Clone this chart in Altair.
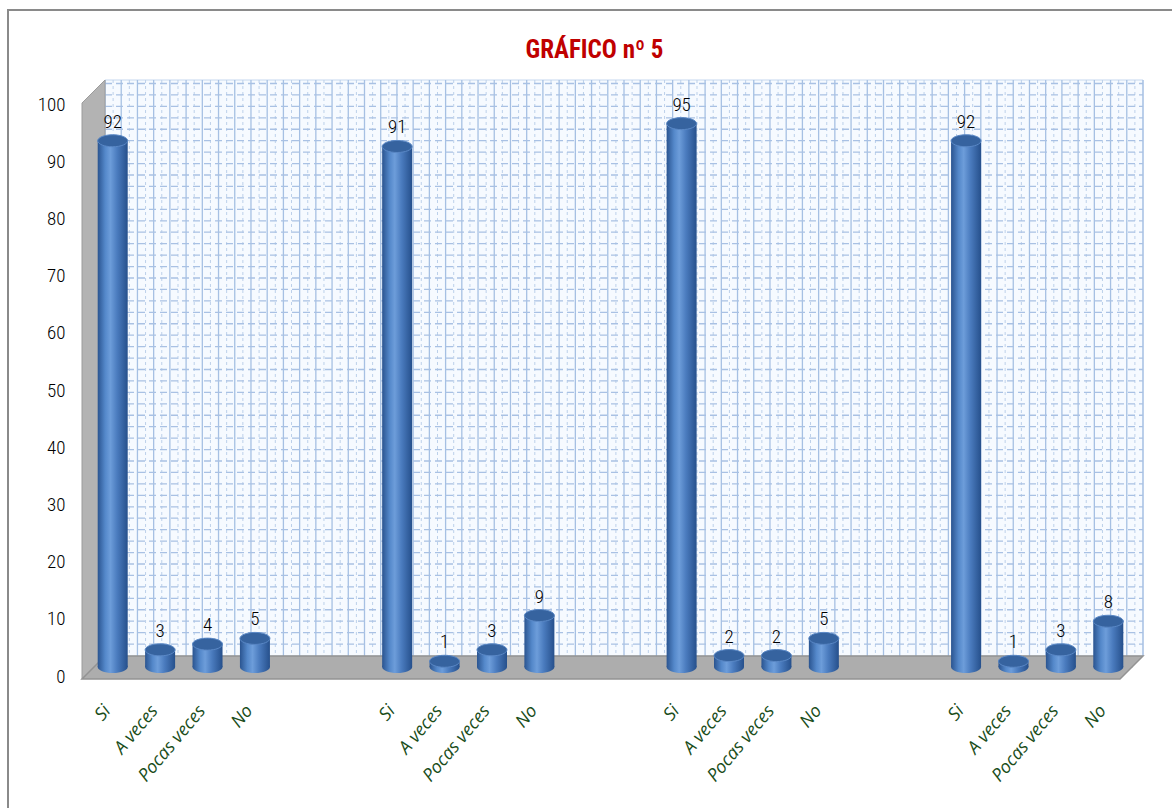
import altair as alt
import pandas as pd

# ---------------- data ----------------
categories = ["Si", "A veces", "Pocas veces", "No"]
group1 = [92, 3, 4, 5]
group2 = [91, 1, 3, 9]
group3 = [95, 2, 2, 5]
group4 = [92, 1, 3, 8]
groups = [group1, group2, group3, group4]
y_ticks = [0, 10, 20, 30, 40, 50, 60, 70, 80, 90, 100]
title_text = "GRÁFICO nº 5"

rows = []
domain = []
for gi, vals in enumerate(groups, start=1):
    for c, v in zip(categories, vals):
        key = f"{gi}|{c}"
        rows.append({"key": key, "cat": c, "value": v})
        domain.append(key)
    if gi < len(groups):
        domain += [f"gap{gi}a|", f"gap{gi}b|"]
df = pd.DataFrame(rows)

# ---------------- layout (pixels) ----------------
W, H = 1043, 572
LEFT, TOP = 89, 95
D = 23                      # 3-D depth
BACK_X0, BACK_X1 = 16, W + 11
FRONT_X0, FRONT_X1 = -7, W - 12
FLOOR_BACK, FLOOR_FRONT = H - 11, H + 12
WALL_TOP = -15

NARROW = "Liberation Sans Narrow, Arial Narrow, Roboto Condensed, sans-serif"

xscale = alt.Scale(domain=domain, paddingInner=0.37, paddingOuter=0.185)
yscale = alt.Scale(domain=[0, 100], nice=False, zero=True)
yaxis = alt.Axis(
    title=None, values=y_ticks, labelFont=NARROW, labelFontSize=19, labelFontWeight=300,
    labelColor="#000000", labelPadding=24, labelOffset=9, domain=False, ticks=False, grid=False,
)
xaxis = alt.Axis(
    title=None, labels=False, domain=False, ticks=False, grid=False,
)

base = alt.Chart(df)
one = "datum.key == '1|Si'"

# border frame
border = base.mark_rect(filled=False, stroke="#8a8a8a", strokeWidth=2).encode(
    x=alt.value(-LEFT + 8), x2=alt.value(W + 76), y=alt.value(-TOP + 10), y2=alt.value(H + 160)
).transform_filter(one)

# back wall
wall = base.mark_rect(fill="#f6faff", stroke="#c5d7ee", strokeWidth=1).encode(
    x=alt.value(BACK_X0), x2=alt.value(BACK_X1), y=alt.value(WALL_TOP), y2=alt.value(FLOOR_BACK)
).transform_filter(one)

NV = 64
step = (BACK_X1 - BACK_X0) / NV
vgrid = alt.Chart(alt.sequence(0, NV + 1, as_="i")).transform_calculate(
    px=f"{BACK_X0} + datum.i * {step}"
).mark_rule(color="#a6c0e3", strokeWidth=1.3).encode(
    x=alt.X("px:Q", scale=None, axis=None),
    y=alt.value(WALL_TOP), y2=alt.value(FLOOR_BACK),
)
vgrid2 = alt.Chart(alt.sequence(0, NV, as_="i")).transform_calculate(
    px=f"{BACK_X0} + (datum.i + 0.5) * {step}"
).mark_rule(color="#bcd0ea", strokeWidth=1, strokeDash=[3, 3]).encode(
    x=alt.X("px:Q", scale=None, axis=None),
    y=alt.value(WALL_TOP), y2=alt.value(FLOOR_BACK),
)
hgrid = alt.Chart(alt.sequence(2, 101, 2, as_="v")).mark_rule(
    color="#a9c1e4", strokeWidth=1.3, strokeDash=[7, 4], yOffset=-D / 2
).encode(
    y=alt.Y("v:Q", scale=yscale, axis=yaxis),
    x=alt.value(BACK_X0), x2=alt.value(BACK_X1),
)

# side wall and floor (decoration polygons, pixel units)
side_path = f"M{FRONT_X0},{8} L{BACK_X0},{WALL_TOP} L{BACK_X0},{FLOOR_BACK} L{FRONT_X0},{FLOOR_FRONT} Z"
side = base.mark_point(shape=side_path, size=4, filled=True, fill="#b3b3b3",
                       stroke="#9c9c9c", strokeWidth=1, opacity=1).encode(
    x=alt.value(0), y=alt.value(0)
).transform_filter(one)
floor_path = f"M{FRONT_X0},{FLOOR_FRONT} L{BACK_X0},{FLOOR_BACK} L{BACK_X1},{FLOOR_BACK} L{FRONT_X1},{FLOOR_FRONT} Z"
floor = base.mark_point(shape=floor_path, size=4, filled=True, fill="#adadad",
                        stroke="#939393", strokeWidth=1.5, opacity=1).encode(
    x=alt.value(0), y=alt.value(0)
).transform_filter(one)

# cylinders
body_grad = alt.LinearGradient(
    gradient="linear", x1=0, x2=1, y1=0, y2=0,
    stops=[alt.GradientStop(color="#2a5490", offset=0),
           alt.GradientStop(color="#5488ca", offset=0.25),
           alt.GradientStop(color="#6d9dda", offset=0.42),
           alt.GradientStop(color="#4a7bbe", offset=0.65),
           alt.GradientStop(color="#26508c", offset=1)],
)
ellipse = "M-1,0 A1,0.4 0 1,1 1,0 A1,0.4 0 1,1 -1,0 Z"

xenc = alt.X("key:N", scale=xscale, sort=domain, axis=xaxis)
yenc = alt.Y("value:Q", scale=yscale, axis=yaxis)

bottoms = base.mark_point(shape=ellipse, size=900, filled=True, fill=body_grad,
                          strokeWidth=0, opacity=1).encode(
    x=xenc, y=alt.datum(0)
)
bars = base.mark_bar(size=30, color=body_grad).encode(x=xenc, y=yenc)
tops = base.mark_point(shape=ellipse, size=900, filled=True, fill="#36639f",
                       stroke="#5a88c6", strokeWidth=1, opacity=1).encode(x=xenc, y=yenc)
labels = base.mark_text(font=NARROW, fontSize=19, fontWeight=300, color="#000000",
                        baseline="alphabetic", dy=-13).encode(x=xenc, y=yenc, text="value:Q")

# category labels under the floor (rotated text)
cat_labels = base.mark_text(
    angle=310, align="right", baseline="middle", font="Open Sans", fontStyle="italic",
    fontSize=18, color="#1a4d1a", dx=-8
).encode(x=xenc, y=alt.value(H + 35), text="cat:N")

title = base.mark_text(text=title_text, font=NARROW, fontSize=25, fontWeight="bold",
                       color="#c00000", align="center", baseline="alphabetic").encode(
    x=alt.value(W / 2 - 16), y=alt.value(58 - TOP)
).transform_filter(one)

chart = alt.layer(
    border, wall, vgrid, vgrid2, hgrid, side, floor, bottoms, bars, tops, labels,
    cat_labels, title
).properties(
    width=W, height=H,
    autosize=alt.AutoSizeParams(type="none"),
    padding={"left": LEFT, "top": TOP, "right": 1172 - LEFT - W, "bottom": 808 - TOP - H},
).configure_view(stroke=None).configure(background="#ffffff")

chart.save("out.html", embed_options={"renderer": "svg", "actions": False})
